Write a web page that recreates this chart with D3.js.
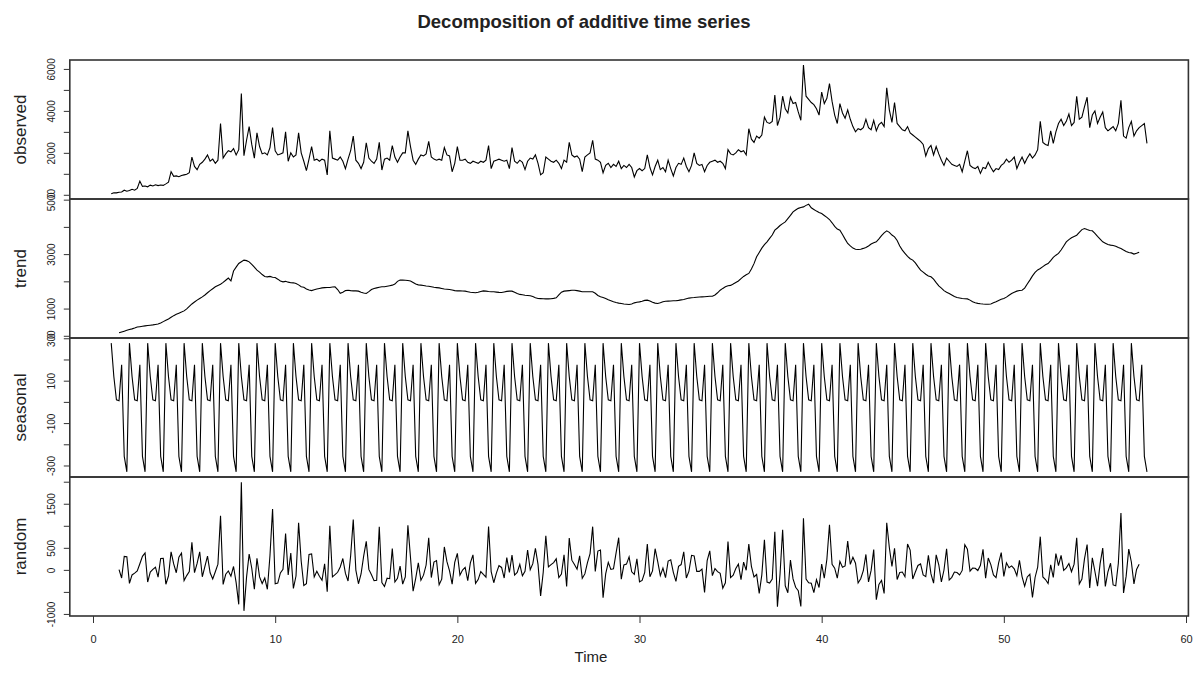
<!DOCTYPE html>
<html>
<head>
<meta charset="utf-8">
<script src="https://cdn.jsdelivr.net/npm/d3@7"></script>
<style>
  body { margin: 0; background: #fff; }
  text { font-family: "Liberation Sans", Arial, sans-serif; fill: #222; }
</style>
</head>
<body>
<svg id="chart" width="1198" height="675"></svg>
<script>
// time series attributes: start at 1, 7 observations per unit
var tsStart = 1, tsFreq = 7;

var observed = [
    45, 100, 90, 120, 130, 220, 170,
    200, 260, 220, 300, 650, 400, 420,
    380, 460, 420, 480, 440, 470, 450,
    520, 600, 1100, 880, 900, 860, 920,
    950, 980, 1050, 1800, 1350, 1200, 1450,
    1550, 1700, 1900, 1600, 1700, 1500, 1650,
    3400, 1750, 1950, 2100, 2050, 2200, 1900,
    2150, 4830, 1860, 2600, 3250, 2400, 1750,
    2950, 2300, 1950, 2000, 1900, 2250, 3200,
    2100, 1900, 1950, 2000, 3000, 1600, 2000,
    1800, 1900, 2950, 2000, 1600, 1150, 1700,
    2300, 1650, 1700, 1600, 1700, 1650, 950,
    3050, 1750, 1700, 1650, 1800, 1600, 1250,
    1700, 2100, 2800, 1650, 1500, 1250, 1550,
    2480, 1750, 1600, 1500, 1700, 2500, 1180,
    1700, 1750, 1650, 2350, 1800, 1550, 1800,
    2000, 2000, 3050, 2300, 1650, 1450, 1700,
    1900, 1850, 1950, 2550, 1800, 1700, 1650,
    1700, 1650, 2250, 1900, 1850, 1100, 1500,
    2300, 1650, 1650, 1700, 1550, 1500, 1600,
    1550, 1500, 1600, 1550, 1650, 2350, 1250,
    1600, 1650, 1700, 1650, 1600, 1650, 1250,
    2250, 1600, 1500, 1650, 1550, 1200, 1600,
    1750, 1700, 1900, 1500, 950, 1050, 1800,
    1700, 1600, 1550, 1650, 1500, 1250, 1650,
    1550, 2500, 1900, 1800, 1850, 1700, 1100,
    1800, 1900, 2000, 2600, 1700, 1650, 1550,
    1050, 1400, 1500, 1300, 1450, 1350, 1600,
    1250, 1400, 1300, 1450, 1300, 850, 1150,
    1250, 1150, 1250, 1900, 1300, 950, 1350,
    1650, 1200, 1300, 1100, 1650, 1250, 900,
    1300, 1500, 1450, 1750, 1350, 1100, 1400,
    2000, 1500, 1400, 1450, 1100, 1400, 1550,
    1600, 1650, 1550, 1600, 1500, 1250, 2150,
    1950, 1900, 2000, 2150, 2050, 2100, 1900,
    3150, 2650, 2500, 2800, 2700, 2850, 3700,
    3450, 3400, 3500, 4750, 3300, 3700, 4700,
    4100, 3900, 4650, 4350, 4400, 3950, 3550,
    6180, 4700, 4550, 4400, 4300, 4100, 3800,
    4900, 4350, 4600, 5300, 4450, 3800, 3400,
    4350, 3900, 3650, 4050, 3600, 3250, 3000,
    3150, 3100, 3200, 3600, 3200, 3100, 3550,
    3050, 3350, 3450, 3250, 5100, 4050, 3450,
    4400, 3400, 3250, 3100, 3050, 3250, 2950,
    2850, 2750, 2650, 2550, 2400, 1850, 2200,
    2350, 1900, 2300, 1950, 1650, 1400, 1750,
    1600, 1450, 1400, 1350, 1450, 1100, 1600,
    2100, 1400, 1300, 1250, 1350, 1020, 1300,
    1250, 1550, 1300, 1100, 1250, 1200, 1400,
    1500, 1700, 1550, 1650, 1800, 1250, 1550,
    1800, 1500, 1750, 1950, 1750, 1900, 2150,
    3500, 2500, 2400, 2350, 3050, 2450, 3000,
    3400, 3600, 3300, 3500, 3850, 3300, 3450,
    4700, 3600, 3700, 4200, 4650, 3200, 3800,
    4000, 3400, 3700, 3950, 3200, 3050, 3150,
    3250, 3050, 3400, 4500, 2800, 2700, 3200,
    3500, 2800, 3050, 3200, 3300, 3400, 2450
];

// trend and random begin 3 observations after the series start
var trendOffset = 3;

var trend = [
    108, 140, 170, 200,
    230, 255, 285, 320, 335, 350, 365,
    380, 390, 400, 415, 430, 470, 520,
    570, 620, 680, 740, 790, 830, 870,
    915, 990, 1080, 1170, 1240, 1310, 1370,
    1430, 1500, 1580, 1660, 1730, 1800, 1850,
    1895, 1960, 2040, 2120, 2020, 2380, 2520,
    2655, 2720, 2780, 2760, 2715, 2620, 2520,
    2410, 2340, 2250, 2180, 2165, 2180, 2150,
    2140, 2080, 2010, 1980, 2000, 1970, 1950,
    1945, 1920, 1870, 1800, 1780, 1720, 1680,
    1660, 1690, 1720, 1740, 1760, 1770, 1775,
    1775, 1790, 1800, 1700, 1560, 1600, 1660,
    1675, 1660, 1650, 1650, 1640, 1600, 1570,
    1555, 1620, 1700, 1740, 1760, 1780, 1800,
    1800, 1820, 1840, 1860, 1900, 2000, 2045,
    2045, 2040, 2030, 2015, 1960, 1900, 1870,
    1860, 1850, 1830, 1820, 1800, 1780, 1770,
    1760, 1740, 1720, 1710, 1700, 1680, 1660,
    1650, 1650, 1645, 1640, 1620, 1600, 1590,
    1580, 1600, 1630, 1650, 1640, 1625, 1620,
    1615, 1605, 1595, 1590, 1610, 1630, 1640,
    1640, 1600, 1550, 1520, 1510, 1490, 1480,
    1470, 1440, 1400, 1370, 1365, 1360, 1355,
    1355, 1360, 1375, 1395, 1500, 1600, 1640,
    1650, 1660, 1670, 1675, 1660, 1640, 1620,
    1615, 1615, 1620, 1615, 1560, 1480, 1430,
    1405, 1370, 1320, 1285, 1250, 1220, 1200,
    1185, 1170, 1160, 1150, 1170, 1210, 1230,
    1245, 1270, 1300, 1310, 1280, 1230, 1200,
    1185, 1210, 1250, 1270, 1275, 1280, 1285,
    1285, 1300, 1320, 1335, 1360, 1385, 1400,
    1405, 1415, 1425, 1430, 1435, 1445, 1450,
    1455, 1500, 1580, 1675, 1740, 1800, 1840,
    1850, 1900, 1960, 2015, 2100, 2180, 2240,
    2290, 2450, 2650, 2900, 3060, 3220, 3350,
    3450, 3580, 3700, 3880, 3960, 4050, 4120,
    4185, 4300, 4420, 4550, 4620, 4680, 4710,
    4735, 4790, 4835, 4700, 4640, 4580, 4530,
    4490, 4420, 4350, 4270, 4150, 4020, 3920,
    3880, 3720, 3550, 3390, 3300, 3220, 3180,
    3170, 3180, 3210, 3245, 3300, 3370, 3420,
    3450, 3560, 3680, 3780, 3855, 3800, 3700,
    3635, 3500, 3300, 3145, 3030, 2920, 2830,
    2780, 2680, 2540, 2410, 2340, 2260, 2200,
    2165, 2080, 1950, 1830, 1750, 1660, 1600,
    1555, 1500, 1440, 1405, 1390, 1370, 1360,
    1355, 1310, 1250, 1210, 1190, 1175, 1165,
    1160, 1160, 1170, 1210, 1250, 1300, 1340,
    1370, 1420, 1490, 1555, 1600, 1640, 1665,
    1675, 1750, 1900, 2045, 2200, 2330, 2420,
    2470, 2540, 2610, 2655, 2760, 2880, 2960,
    3025, 3150, 3300, 3450, 3530, 3600, 3650,
    3695, 3800, 3900, 3940, 3900, 3870, 3855,
    3760, 3650, 3550, 3450, 3400, 3350, 3330,
    3315, 3290, 3240, 3205, 3150, 3100, 3060,
    3045, 3000, 3030, 3070
];

// one weekly cycle of the seasonal figure
var seasonalFigure = [277, 120, 10, 5, 175, -257, -330];

var random = [
    7, -185, 307, 300,
    -307, -115, -75, -25, 140, 307, 385,
    -277, -50, 10, 60, -165, 257, 260,
    -327, -140, 410, 135, -65, 287, 380,
    -242, -130, -40, 625, -65, 147, 410,
    -157, 80, 310, -65, -205, -43, 130,
    1228, -330, -100, -25, -145, 77, -290,
    -782, 1990, -930, -165, 360, 37, -440,
    263, -160, -310, -185, -440, 327, 1380,
    -317, -300, -70, 15, 825, -113, 380,
    -422, -140, 1070, 195, -355, -313, 350,
    363, -160, -30, -145, -235, 137, -495,
    998, -160, -110, -55, 65, 257, -80,
    -252, 320, 1140, -5, -315, -93, 310,
    648, 10, -110, -245, -235, 977, -290,
    -377, -190, -200, 485, -275, -193, 85,
    -322, -160, 1010, 280, -485, -193, 160,
    -237, -120, 110, 725, -175, 177, 210,
    -337, -210, 520, 185, -25, -323, 170,
    373, -120, -5, 55, -245, 157, 340,
    -307, -220, -40, -105, -165, 982, -40,
    -292, -75, 95, 55, -185, 277, -60,
    333, -120, -60, 125, -135, -33, 450,
    3, 140, 490, 125, -590, -53, 775,
    68, 120, 165, 250, -175, -93, 340,
    -377, 720, 220, 120, 15, 317, -190,
    -92, 165, 370, 980, -35, 427, 450,
    -632, -90, 170, 10, 25, 387, 730,
    -212, 110, 130, 295, -45, -103, 250,
    -272, -240, -60, 585, -155, -23, 480,
    188, -130, 40, -175, 200, 227, -55,
    -262, 80, 120, 410, -185, -28, 330,
    318, -35, -35, 15, -510, 212, 430,
    -132, 30, -40, -80, -415, -293, 640,
    -177, -120, 30, 130, -225, 177, -10,
    583, 80, -160, -105, -535, -113, 680,
    -277, -300, -210, 865, -835, -93, 910,
    -362, -520, 220, -205, -395, -473, -830,
    1168, -210, -295, -305, -515, -223, -400,
    133, -190, 240, 1025, 125, 37, -190,
    193, 60, 90, 655, 125, 287, 150,
    -297, -200, -20, 350, -275, -13, 460,
    -677, -330, -240, -535, 1070, 507, 80,
    488, -220, -60, -50, -155, 587, 450,
    -207, -50, 100, 135, -115, -153, 330,
    -92, -300, 340, 115, -275, -3, 480,
    -232, -170, -50, -60, -115, -13, 570,
    468, -30, 40, 35, -15, 102, 465,
    -187, 270, 120, -115, -175, 157, 390,
    -147, 160, 50, 90, 25, -133, 215,
    -152, -370, -160, -100, -625, -173, 60,
    753, -160, -220, -310, 115, -173, 370,
    98, 330, -10, 45, 145, -43, 130,
    728, -320, -210, 255, 575, -413, 275,
    -37, -370, 140, 495, -375, -43, 150,
    -342, -360, 150, 1290, -525, -143, 470,
    178, -320, 10, 125
];

// axis ticks and which of them carry a label
var observedTicks = [0, 1000, 2000, 3000, 4000, 5000, 6000];
var observedLabels = [0, 2000, 4000, 6000];
var trendTicks = [0, 1000, 2000, 3000, 4000, 5000];
var trendLabels = [0, 1000, 3000, 5000];
var seasonalTicks = [-300, -200, -100, 0, 100, 200, 300];
var seasonalLabels = [-300, -100, 100, 300];
var randomTicks = [-1000, -500, 0, 500, 1000, 1500, 2000];
var randomLabels = [-1000, 0, 500, 1500];
var timeTicks = [0, 10, 20, 30, 40, 50, 60];

var svg = d3.select("#chart");

var left = 69.8, right = 1188.4;
var panelTop = 60, panelH = 139;

function toPoints(values, offset) {
    return values.map(function (v, i) {
        return { t: tsStart + (i + offset) / tsFreq, v: v };
    });
}

var seasonal = observed.map(function (d, i) { return seasonalFigure[i % tsFreq]; });

var panels = [
    { name: "observed", data: toPoints(observed, 0), ticks: observedTicks, labels: observedLabels },
    { name: "trend", data: toPoints(trend, trendOffset), ticks: trendTicks, labels: trendLabels },
    { name: "seasonal", data: toPoints(seasonal, 0), ticks: seasonalTicks, labels: seasonalLabels },
    { name: "random", data: toPoints(random, trendOffset), ticks: randomTicks, labels: randomLabels }
];

// X SCALE (R style 4% padding)
var tFirst = tsStart, tLast = tsStart + (observed.length - 1) / tsFreq;
var tPad = 0.04 * (tLast - tFirst);
var x = d3.scaleLinear()
    .domain([tFirst - tPad, tLast + tPad])
    .range([left, right]);

panels.forEach(function (p, k) {
    var top = panelTop + k * panelH;
    var ext = d3.extent(p.data, function (d) { return d.v; });
    var pad = 0.04 * (ext[1] - ext[0]);
    var y = d3.scaleLinear()
        .domain([ext[0] - pad, ext[1] + pad])
        .range([top + panelH, top]);

    var g = svg.append("g");

    // Y AXIS
    var yAxis = d3.axisLeft(y)
        .tickValues(p.ticks)
        .tickSize(6)
        .tickFormat(function (d) { return p.labels.indexOf(d) >= 0 ? d : ""; });

    var ya = g.append("g")
        .attr("transform", "translate(" + left + ",0)")
        .call(yAxis);
    ya.select(".domain").remove();
    ya.selectAll("line").attr("stroke", "#333");
    ya.selectAll("text")
        .attr("transform", "rotate(-90)")
        .attr("x", 0)
        .attr("y", -15)
        .attr("dy", 0)
        .attr("text-anchor", "middle")
        .attr("font-size", "10px")
        .attr("fill", "#333");

    // Y LABEL
    g.append("text")
        .attr("transform", "translate(26," + (top + panelH / 2) + ") rotate(-90)")
        .attr("text-anchor", "middle")
        .attr("font-size", "17px")
        .attr("fill", "#333")
        .text(p.name);

    // SERIES
    var line = d3.line()
        .x(function (d) { return x(d.t); })
        .y(function (d) { return y(d.v); });

    g.append("path")
        .datum(p.data)
        .attr("fill", "none")
        .attr("stroke", "#000")
        .attr("stroke-width", 1.1)
        .attr("d", line);

    // BOX
    g.append("rect")
        .attr("x", left)
        .attr("y", top)
        .attr("width", right - left)
        .attr("height", panelH)
        .attr("fill", "none")
        .attr("stroke", "#333")
        .attr("stroke-width", 1.6);
});

// X AXIS
var bottom = panelTop + 4 * panelH;
var xa = svg.append("g")
    .attr("transform", "translate(0," + bottom + ")")
    .call(d3.axisBottom(x).tickValues(timeTicks).tickSize(7).tickFormat(d3.format("d")));
xa.select(".domain").remove();
xa.selectAll("line").attr("stroke", "#333");
xa.selectAll("text")
    .attr("y", 19)
    .attr("dy", "0.71em")
    .attr("font-size", "11px")
    .attr("fill", "#333");

// X LABEL
svg.append("text")
    .attr("x", 591)
    .attr("y", 662)
    .attr("text-anchor", "middle")
    .attr("font-size", "15px")
    .attr("fill", "#333")
    .text("Time");

// TITLE
svg.append("text")
    .attr("x", 584)
    .attr("y", 28)
    .attr("text-anchor", "middle")
    .attr("font-size", "18.5px")
    .attr("font-weight", "bold")
    .attr("fill", "#111")
    .text("Decomposition of additive time series");
</script>
</body>
</html>
